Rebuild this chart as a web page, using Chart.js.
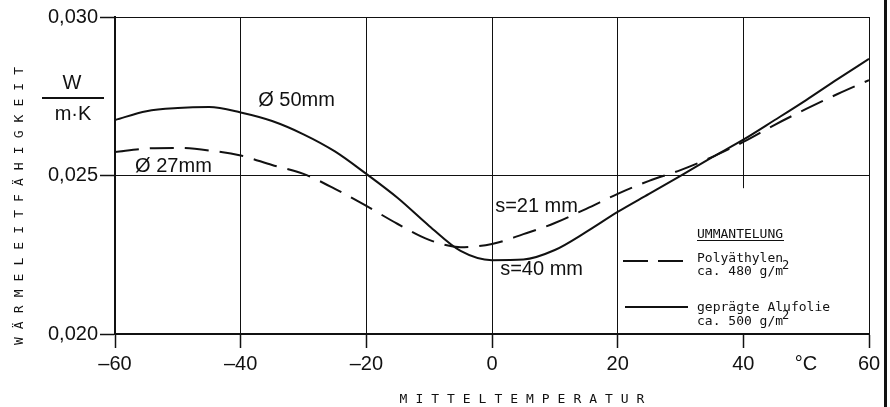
<!DOCTYPE html>
<html lang="de">
<head>
<meta charset="utf-8">
<title>Wärmeleitfähigkeit</title>
<script src="https://cdn.jsdelivr.net/npm/chart.js@4/dist/chart.umd.min.js"></script>
<style>
    html, body { margin: 0; padding: 0; background: #fff; }
    canvas { display: block; }
</style>
</head>
<body>
<canvas id="chart" width="890" height="407"></canvas>
<script>
// Mitteltemperatur in °C
const temperatures = [-60, -55, -50, -45, -40, -35, -30, -25, -20, -15, -10, -5, 0, 5, 10, 15, 20, 25, 30, 35, 40, 45, 50, 55, 60];

// geprägte Alufolie, ca. 500 g/m² (Ø 50 mm, s = 40 mm)
const alufolie = [0.02675, 0.02703, 0.02713, 0.02716, 0.02699, 0.02672, 0.02630, 0.02576, 0.02505, 0.02429,
    0.02341, 0.02262, 0.02233, 0.02235, 0.02265, 0.02322, 0.02385, 0.02442, 0.02499, 0.02557,
    0.02613, 0.02675, 0.02738, 0.02804, 0.02868];

// Polyäthylen, ca. 480 g/m² (Ø 27 mm, s = 21 mm)
const polyaethylen = [0.02574, 0.02585, 0.02587, 0.02579, 0.02563, 0.02533, 0.02505, 0.02458, 0.02404, 0.02347,
    0.02297, 0.02274, 0.02284, 0.02315, 0.02350, 0.02395, 0.02442, 0.02483, 0.02517, 0.02558,
    0.02606, 0.02660, 0.02710, 0.02757, 0.02801];

const xTicks = [-60, -40, -20, 0, 20, 40, 60];
const yTicks = [0.020, 0.025, 0.030];

// Beschriftungen an den Kurven (linke Kante, Mitte in Datenkoordinaten)
const curveLabels = [
    { text: 'Ø 50mm', x: -37.2, y: 0.02738 },
    { text: 'Ø 27mm', x: -56.8, y: 0.02527 },
    { text: 's=21 mm', x: 0.5, y: 0.02401 },
    { text: 's=40 mm', x: 1.3, y: 0.02202 },
];

const BLACK = '#111';
const SANS = '"Liberation Sans", Arial, sans-serif';
const MONO = '"DejaVu Sans Mono", monospace';

function spaced(ctx, text, x, y, step) {
    // Sperrschrift: jeden Buchstaben einzeln setzen
    const start = x - (step * (text.length - 1)) / 2;
    for (let i = 0; i < text.length; i++) {
        ctx.fillText(text[i], start + i * step, y);
    }
}

const drawings = {
    id: 'drawings',
    beforeDatasetsDraw(chart) {
        // Legendenfeld: Gitterlinie bei 40 °C dort unterbrechen
        const { ctx } = chart;
        const x = chart.scales.x;
        const y = chart.scales.y;
        ctx.save();
        ctx.fillStyle = '#fff';
        const left = x.getPixelForValue(29.5);
        const top = y.getPixelForValue(0.0246);
        ctx.fillRect(left, top, x.getPixelForValue(55) - left, y.bottom - 1 - top);
        ctx.restore();
    },
    afterDraw(chart) {
        const { ctx } = chart;
        const xs = chart.scales.x;
        const ys = chart.scales.y;
        ctx.save();
        ctx.fillStyle = BLACK;
        ctx.strokeStyle = BLACK;

        // Kurvenbeschriftung
        ctx.font = '20px ' + SANS;
        ctx.textAlign = 'left';
        ctx.textBaseline = 'middle';
        curveLabels.forEach((l) => {
            ctx.fillText(l.text, xs.getPixelForValue(l.x), ys.getPixelForValue(l.y));
        });

        // Einheit an der y-Achse
        ctx.font = '20px ' + SANS;
        ctx.textAlign = 'center';
        ctx.fillText('W', 72, 83);
        ctx.fillText('m·K', 73, 114);
        ctx.lineWidth = 2;
        ctx.beginPath();
        ctx.moveTo(42, 98);
        ctx.lineTo(104, 98);
        ctx.stroke();

        // °C an der x-Achse
        ctx.fillText('°C', 806, 364);

        // Achsentitel in Sperrschrift
        ctx.font = '13px ' + MONO;
        spaced(ctx, 'MITTELTEMPERATUR', 522, 400, 15.8);
        ctx.save();
        ctx.translate(20, 206);
        ctx.rotate(-Math.PI / 2);
        spaced(ctx, 'WÄRMELEITFÄHIGKEIT', 0, 0, 15.9);
        ctx.restore();

        // Legende
        ctx.font = '13px ' + MONO;
        ctx.textAlign = 'left';
        ctx.textBaseline = 'alphabetic';
        ctx.fillText('UMMANTELUNG', 697, 238);
        ctx.lineWidth = 1;
        ctx.beginPath();
        ctx.moveTo(697, 240.5);
        ctx.lineTo(784, 240.5);
        ctx.stroke();

        ctx.lineWidth = 2;
        ctx.setLineDash([25, 10]);
        ctx.beginPath();
        ctx.moveTo(623, 261);
        ctx.lineTo(688, 261);
        ctx.stroke();
        ctx.setLineDash([]);
        ctx.beginPath();
        ctx.moveTo(625, 307);
        ctx.lineTo(688, 307);
        ctx.stroke();

        ctx.fillText('Polyäthylen', 697, 262);
        ctx.fillText('ca. 480 g/m', 697, 275);
        ctx.fillText('geprägte Alufolie', 697, 311);
        ctx.fillText('ca. 500 g/m', 697, 325);
        ctx.font = '12px ' + MONO;
        ctx.fillText('2', 782, 269);
        ctx.fillText('2', 782, 319);

        // Randlinie rechts
        ctx.lineWidth = 3;
        ctx.beginPath();
        ctx.moveTo(885.5, 0);
        ctx.lineTo(885.5, 407);
        ctx.stroke();
        ctx.restore();
    },
};

new Chart(document.getElementById('chart'), {
    type: 'line',
    data: {
        labels: temperatures,
        datasets: [
            {
                label: 'Polyäthylen',
                data: temperatures.map((t, i) => ({ x: t, y: polyaethylen[i] })),
                borderColor: BLACK,
                borderWidth: 2,
                borderDash: [24, 11],
                pointRadius: 0,
                cubicInterpolationMode: 'monotone',
                fill: false,
            },
            {
                label: 'geprägte Alufolie',
                data: temperatures.map((t, i) => ({ x: t, y: alufolie[i] })),
                borderColor: BLACK,
                borderWidth: 2,
                pointRadius: 0,
                cubicInterpolationMode: 'monotone',
                fill: false,
            },
        ],
    },
    options: {
        responsive: false,
        animation: false,
        layout: {
            padding: { top: 17, right: 21, left: 0, bottom: 0 },
        },
        plugins: {
            legend: { display: false },
            tooltip: { enabled: false },
        },
        scales: {
            x: {
                type: 'linear',
                min: -60,
                max: 60,
                afterFit: (s) => { s.height = 73; },
                afterBuildTicks: (s) => { s.ticks = xTicks.map((v) => ({ value: v })); },
                border: { color: BLACK, width: 2 },
                grid: {
                    color: BLACK,
                    lineWidth: 1,
                    tickLength: 14,
                    tickColor: BLACK,
                    tickWidth: 1.5,
                },
                ticks: {
                    color: BLACK,
                    padding: 4,
                    maxRotation: 0,
                    font: { family: SANS, size: 20 },
                    callback: (v) => (v < 0 ? '–' + Math.abs(v) : String(v)),
                },
            },
            y: {
                min: 0.020,
                max: 0.030,
                afterFit: (s) => { s.width = 115; },
                afterBuildTicks: (s) => { s.ticks = yTicks.map((v) => ({ value: v })); },
                border: { color: BLACK, width: 2 },
                grid: {
                    color: BLACK,
                    lineWidth: 1,
                    tickLength: 15,
                    tickColor: BLACK,
                    tickWidth: 1.5,
                },
                ticks: {
                    color: BLACK,
                    padding: 2,
                    font: { family: SANS, size: 20 },
                    callback: (v) => v.toFixed(3).replace('.', ','),
                },
            },
        },
    },
    plugins: [drawings],
});
</script>
</body>
</html>
